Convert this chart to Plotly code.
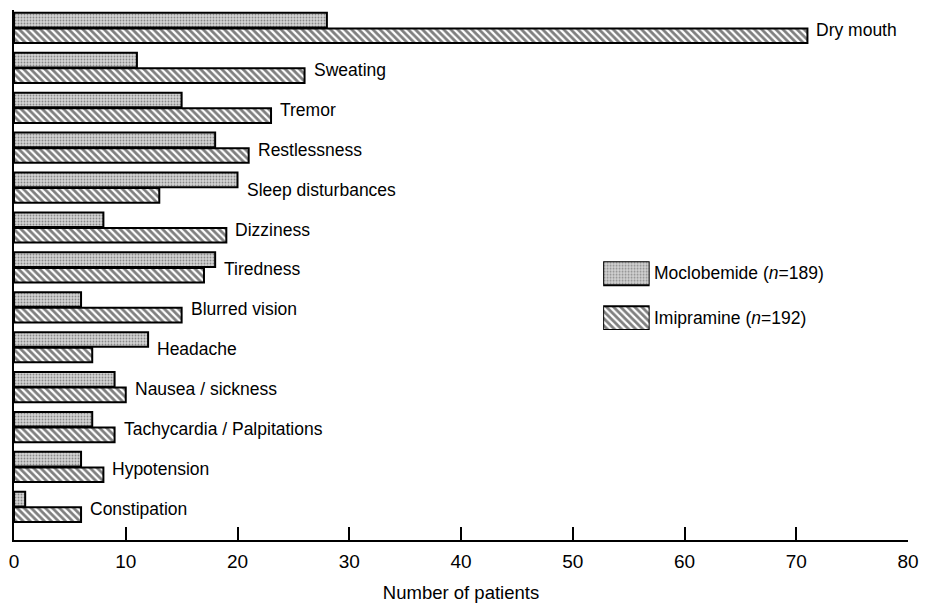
import plotly.graph_objects as go

# Adverse events reported, by drug
symptoms = [
    "Dry mouth", "Sweating", "Tremor", "Restlessness", "Sleep disturbances",
    "Dizziness", "Tiredness", "Blurred vision", "Headache", "Nausea / sickness",
    "Tachycardia / Palpitations", "Hypotension", "Constipation",
]
moclobemide = [28, 11, 15, 18, 20, 8, 18, 6, 12, 9, 7, 6, 1]
imipramine = [71, 26, 23, 21, 13, 19, 17, 15, 7, 10, 9, 8, 6]
series_names = ["Moclobemide (<i>n</i>=189)", "Imipramine (<i>n</i>=192)"]
x_ticks = [0, 10, 20, 30, 40, 50, 60, 70, 80]

FONT = "Liberation Sans"
LABEL_SIZE = 17.5
# stippled grey for moclobemide, diagonal hatching for imipramine
dot_pattern = dict(shape=".", size=3, solidity=0.3, fgcolor="#3c3c3c", fillmode="overlay")
hatch_pattern = dict(shape="\\", size=5, solidity=0.55, fgcolor="black", bgcolor="white")
outline = dict(color="black", width=2)
DOT_BASE = "#d4d4d4"

fig = go.Figure()
fig.add_trace(go.Bar(
    y=symptoms, x=moclobemide, orientation="h", name=series_names[0],
    marker=dict(color=DOT_BASE, pattern=dot_pattern, line=outline),
    showlegend=False,
))
fig.add_trace(go.Bar(
    y=symptoms, x=imipramine, orientation="h", name=series_names[1],
    marker=dict(color="white", pattern=hatch_pattern, line=outline),
    showlegend=False,
))

# Legend keys drawn as bars on a small auxiliary axis pair
fig.add_trace(go.Bar(
    y=[0], x=[1], orientation="h", width=0.533, xaxis="x2", yaxis="y2",
    marker=dict(color=DOT_BASE, pattern=dot_pattern, line=outline),
    showlegend=False, hoverinfo="skip",
))
fig.add_trace(go.Bar(
    y=[1], x=[1], orientation="h", width=0.533, xaxis="x2", yaxis="y2",
    marker=dict(color="white", pattern=hatch_pattern, line=outline),
    showlegend=False, hoverinfo="skip",
))

annotations = []
# Symptom label beside the longer bar of each pair
for name, a, b in zip(symptoms, moclobemide, imipramine):
    annotations.append(dict(
        x=max(a, b), y=name, xref="x", yref="y", text=name,
        xanchor="left", yanchor="middle", xshift=7, yshift=-2,
        showarrow=False, font=dict(family=FONT, size=LABEL_SIZE, color="black"),
    ))
# Legend texts next to the keys
for i, label in enumerate(series_names):
    annotations.append(dict(
        x=1, y=i, xref="x2", yref="y2", text=label,
        xanchor="left", yanchor="middle", xshift=2,
        showarrow=False, font=dict(family=FONT, size=LABEL_SIZE, color="black"),
    ))

fig.update_layout(
    width=926, height=603,
    margin=dict(l=14, r=18, t=10, b=63, autoexpand=False),
    paper_bgcolor="white", plot_bgcolor="white",
    barmode="group", bargap=0.22, bargroupgap=0.06,
    font=dict(family=FONT, color="black"),
    annotations=annotations,
    xaxis=dict(
        range=[0, 80], tickvals=x_ticks, ticktext=[str(t) for t in x_ticks],
        ticks="inside", ticklen=13, tickwidth=1.5, tickcolor="black",
        showline=True, linecolor="black", linewidth=2,
        showgrid=False, zeroline=False, automargin=False,
        tickfont=dict(family=FONT, size=19), ticklabelstandoff=3,
        title=dict(text="Number of patients", font=dict(family=FONT, size=18.5), standoff=15),
    ),
    yaxis=dict(
        categoryorder="array", categoryarray=symptoms,
        range=[12.83, -0.45], showticklabels=False, ticks="",
        showline=True, linecolor="black", linewidth=2,
        showgrid=False, zeroline=False, automargin=False,
    ),
    xaxis2=dict(
        domain=[0.659, 0.711], range=[0, 1], anchor="y2",
        visible=False, fixedrange=True,
    ),
    yaxis2=dict(
        domain=[0.396, 0.526], range=[1.267, -0.267], anchor="x2",
        visible=False, fixedrange=True,
    ),
)

fig.write_html("out.html")
